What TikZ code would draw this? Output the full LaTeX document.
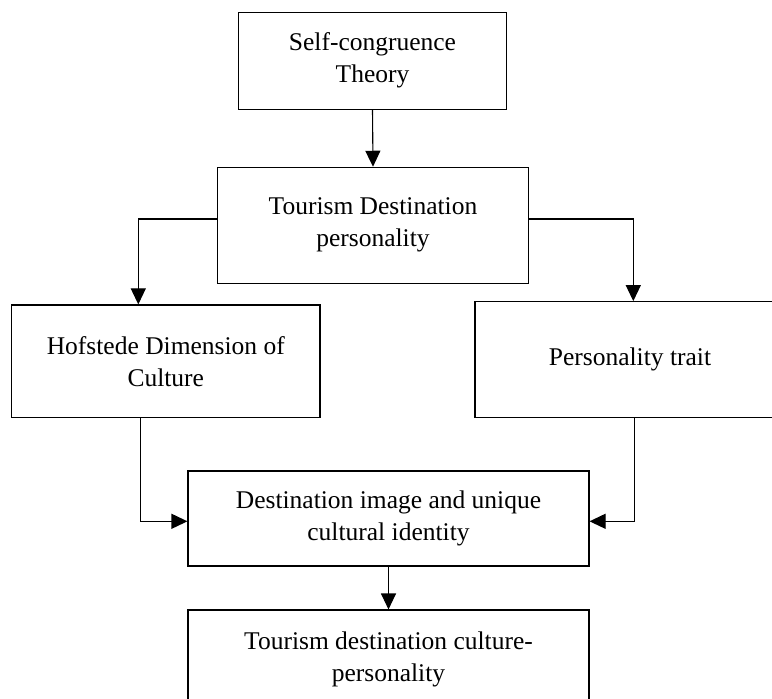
\documentclass[tikz,border=0pt]{standalone}
\usepackage{fontspec}
\setmainfont{Liberation Serif}
\usetikzlibrary{arrows.meta}
\begin{document}
\begin{tikzpicture}[x=1pt,y=-1pt,
  box/.style={draw,line width=1.1pt,align=center,inner sep=0pt,font=\fontsize{25.5}{32}\selectfont},
  conn/.style={line width=1.1pt,-{Triangle[width=15pt,length=16pt]}}]
\useasboundingbox (0,0) rectangle (772,699);
\node[box,minimum width=268.4pt,minimum height=96.7pt] (b1) at (372.5,60.7) {Self-congruence\\Theory};
\node[box,minimum width=310.6pt,minimum height=116pt] (b2) at (373,225.3) {Tourism Destination\\personality};
\node[box,minimum width=308.3pt,minimum height=112.7pt] (b3) at (165.8,361.3) {Hofstede Dimension of\\Culture};
\node[box,minimum width=310pt,minimum height=115.6pt] (b4) at (630,359.5) {Personality trait};
\node[box,minimum width=401pt,minimum height=95pt] (b5) at (388.5,518.5) {Destination image and unique\\cultural identity};
\node[box,minimum width=401pt,minimum height=98pt] (b6) at (388.5,659) {Tourism destination culture-\\personality};
\coordinate (cL) at (138.3,219);
\coordinate (cR) at (633.3,219);
\coordinate (cLL) at (140.5,521.3);
\coordinate (cRR) at (634.5,521.3);
\draw[conn] (b1.south) -- (b2.north);
\draw[conn] (b2.west |- cL) -- (cL) -- (cL |- b3.north);
\draw[conn] (b2.east |- cR) -- (cR) -- (cR |- b4.north);
\draw[conn] (cLL |- b3.south) -- (cLL) -- (cLL -| b5.west);
\draw[conn] (cRR |- b4.south) -- (cRR) -- (cRR -| b5.east);
\draw[conn] (b5.south) -- (b6.north);
\end{tikzpicture}
\end{document}
